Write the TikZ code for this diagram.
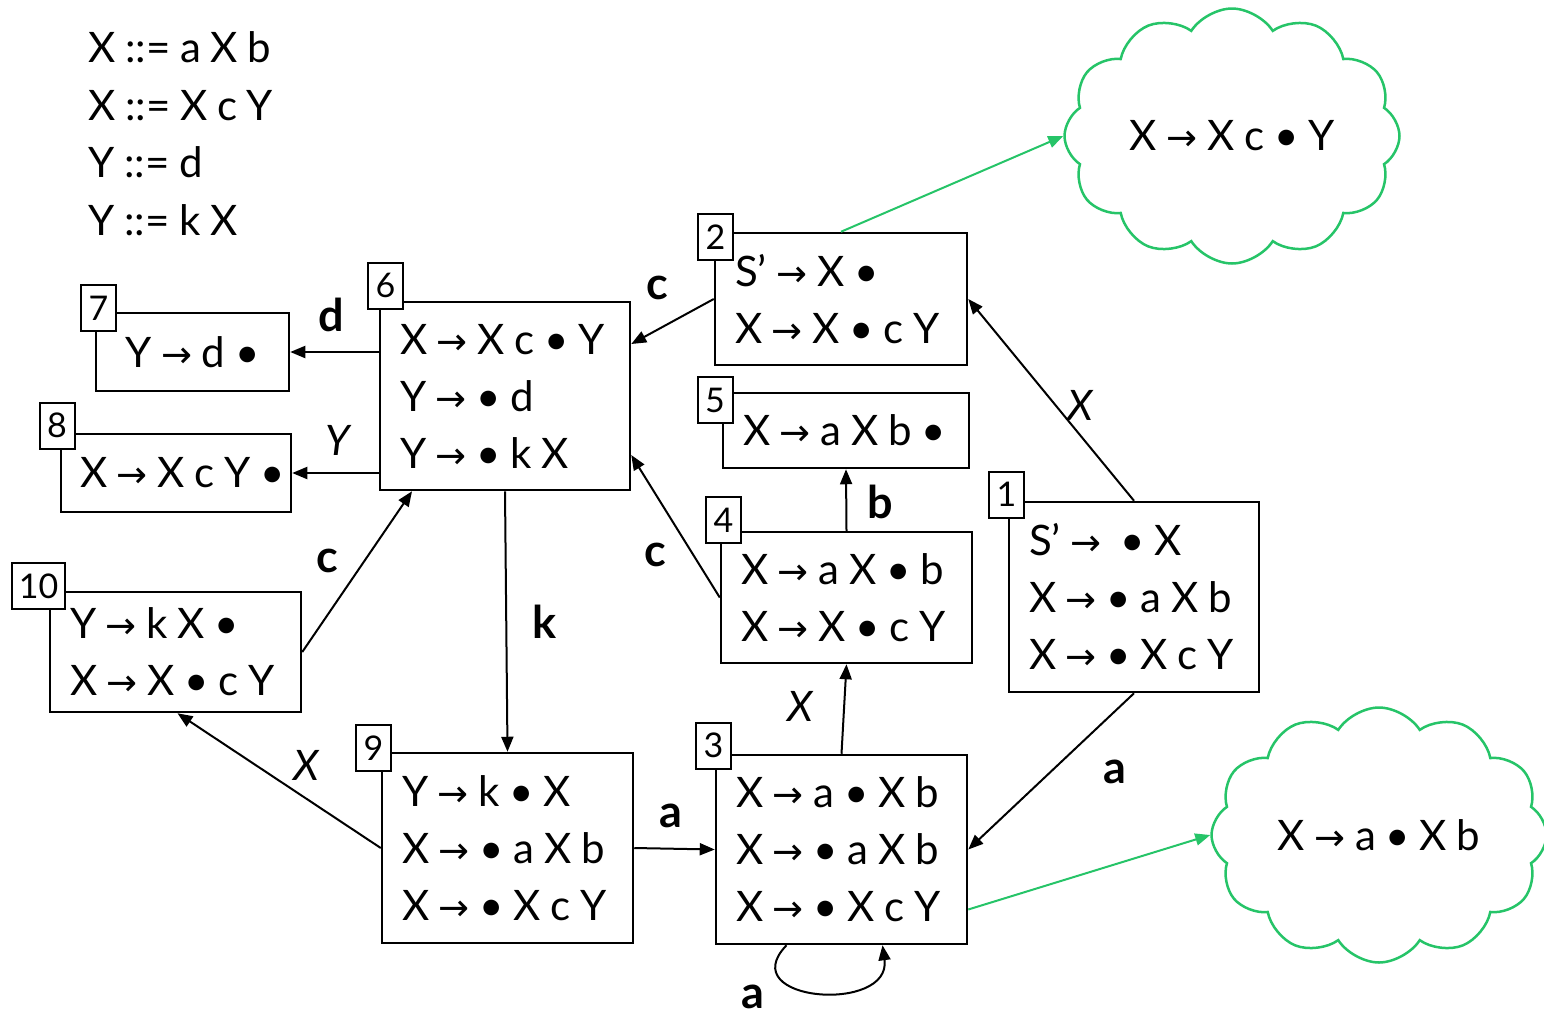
\documentclass[tikz,border=0pt]{standalone}
\usepackage{fontspec}
\setmainfont{Lato}[WordSpace=0.9]
\newfontfamily\arrfont{DejaVu Sans}[Scale=0.88]
\usetikzlibrary{arrows.meta,shapes.symbols}
\definecolor{cgreen}{RGB}{38,196,104}
\newcommand\ra{{\arrfont →}}
\newcommand\bxl[2]{\parbox{#1}{\raggedright #2}}
\begin{document}
\begin{tikzpicture}[x=1pt,y=-1pt,
  every node/.style={inner sep=0pt},
  box/.style={draw, line width=2.5pt, fill=white, inner xsep=20pt, inner ysep=0pt,
    font=\fontsize{42}{57}\selectfont},
  tag/.style={draw, line width=2pt, fill=white, minimum width=35pt, minimum height=46pt,
    font=\fontsize{34}{34}\selectfont},
  edge/.style={-{Triangle[length=15pt,width=12pt]}, line width=2pt},
  gedge/.style={-{Triangle[length=15pt,width=12pt]}, line width=2pt, draw=cgreen, color=cgreen},
  lbl/.style={font=\fontsize{45}{45}\selectfont\bfseries},
  ilbl/.style={font=\fontsize{42}{42}\selectfont\itshape},
  gram/.style={anchor=base west, font=\fontsize{42}{42}\selectfont},
  cld/.style={cloud, draw=cgreen, line width=2.5pt, fill=white, cloud puffs=12, cloud puff arc=115,
    cloud ignores aspect, minimum width=335pt, minimum height=255pt, font=\fontsize{42}{42}\selectfont}]
\useasboundingbox (0,0) rectangle (1544,1010);

% grammar
\node[gram] (g1) at (88,62) {X ::= a X b};
\node[gram] (g2) at (88,120) {X ::= X c Y};
\node[gram] (g3) at (88,177) {Y ::= d};
\node[gram] (g4) at (88,235) {Y ::= k X};

% clouds
\node[cld] (c1) at (1232,136) {X \ra{} X c • Y};
\node[cld] (c2) at (1379,835) {X \ra{} a • X b};

% boxes
\node[box, minimum width=250pt, minimum height=190pt] (b1) at (1134,597) {\bxl{210pt}{S’ \ra{} \ • X\\X \ra{} • a X b\\X \ra{} • X c Y}};
\node[box, minimum width=252pt, minimum height=132pt] (b2) at (841,299) {\bxl{212pt}{S’ \ra{} X •\\X \ra{} X • c Y}};
\node[box, minimum width=251pt, minimum height=189pt] (b3) at (841.5,849.5) {\bxl{211pt}{X \ra{} a • X b\\X \ra{} • a X b\\X \ra{} • X c Y}};
\node[box, minimum width=251pt, minimum height=131pt] (b4) at (846.5,597.5) {\bxl{211pt}{X \ra{} a X • b\\X \ra{} X • c Y}};
\node[box, minimum width=246pt, minimum height=75pt] (b5) at (846,430.5) {\bxl{206pt}{X \ra{} a X b •}};
\node[box, minimum width=250pt, minimum height=188pt] (b6) at (505,396) {\bxl{210pt}{X \ra{} X c • Y\\Y \ra{} • d\\Y \ra{} • k X}};
\node[box, minimum width=193pt, minimum height=78pt] (b7) at (192.5,352) {\parbox{153pt}{\centering Y \ra{} d •}};
\node[box, minimum width=230pt, minimum height=78pt, inner xsep=19pt] (b8) at (176,473) {\bxl{192pt}{\mbox{X \ra{} X c Y •}}};
\node[box, minimum width=251pt, minimum height=190pt] (b9) at (507.5,848) {\bxl{211pt}{Y \ra{} k • X\\X \ra{} • a X b\\X \ra{} • X c Y}};
\node[box, minimum width=251pt, minimum height=120pt] (b10) at (175.5,652) {\bxl{211pt}{Y \ra{} k X •\\X \ra{} X • c Y}};

% tags
\node[tag] (t1) at (1006.5,494.5) {1};
\node[tag] (t2) at (715.5,237) {2};
\node[tag] (t3) at (713.5,745.5) {3};
\node[tag] (t4) at (723.5,520) {4};
\node[tag] (t5) at (715,400) {5};
\node[tag] (t6) at (385.5,285.5) {6};
\node[tag] (t7) at (98.5,308) {7};
\node[tag] (t8) at (57,425.5) {8};
\node[tag] (t9) at (373.5,748) {9};
\node[tag, minimum width=53pt] (t10) at (38.5,586) {10};

% edges
\draw[edge] (b6.west |- b7) -- (b7.east);
\draw[edge] (b6.west |- b8) -- (b8.east);
\draw[edge] (b2.west) -- ([yshift=52pt]b6.east);
\draw[edge] (b4.west) -- ([yshift=-59pt]b6.east);
\draw[edge] (b4.north) -- (b5.south);
\draw[edge] (b3.north) -- (b4.south);
\draw[edge] (b1.north) -- (b2.east);
\draw[edge] (b1.south) -- (b3.east);
\draw[edge] (b6.south) -- (b9.north);
\draw[edge] (b9.east) -- (b3.west);
\draw[edge] (b9.west) -- ([xshift=2pt]b10.south);
\draw[edge] (b10.east) -- ([xshift=-93pt]b6.south);
\draw[edge] ([xshift=-55pt]b3.south) .. controls (732,1002) and (892,1014) .. ([xshift=41pt]b3.south);

% green
\draw[gedge] (b2.north) -- (c1.west);
\draw[gedge] ([yshift=-60pt]b3.east) -- (c2.west);

% labels
\node[lbl] (ld) at (331.5,315) {d};
\node[ilbl] (lY) at (338,440) {Y};
\node[lbl] (lc1) at (657,288) {c};
\node[lbl] (lc2) at (655,555) {c};
\node[lbl] (lb) at (880,502) {b};
\node[ilbl] (lX1) at (800,706) {X};
\node[ilbl] (lX2) at (1080,405) {X};
\node[lbl] (la1) at (1115,772) {a};
\node[lbl] (lk) at (545,622) {k};
\node[lbl] (la2) at (671,815.5) {a};
\node[ilbl] (lX3) at (306,765) {X};
\node[lbl] (lc3) at (327,561) {c};
\node[lbl] (la3) at (753,997) {a};
\end{tikzpicture}
\end{document}
